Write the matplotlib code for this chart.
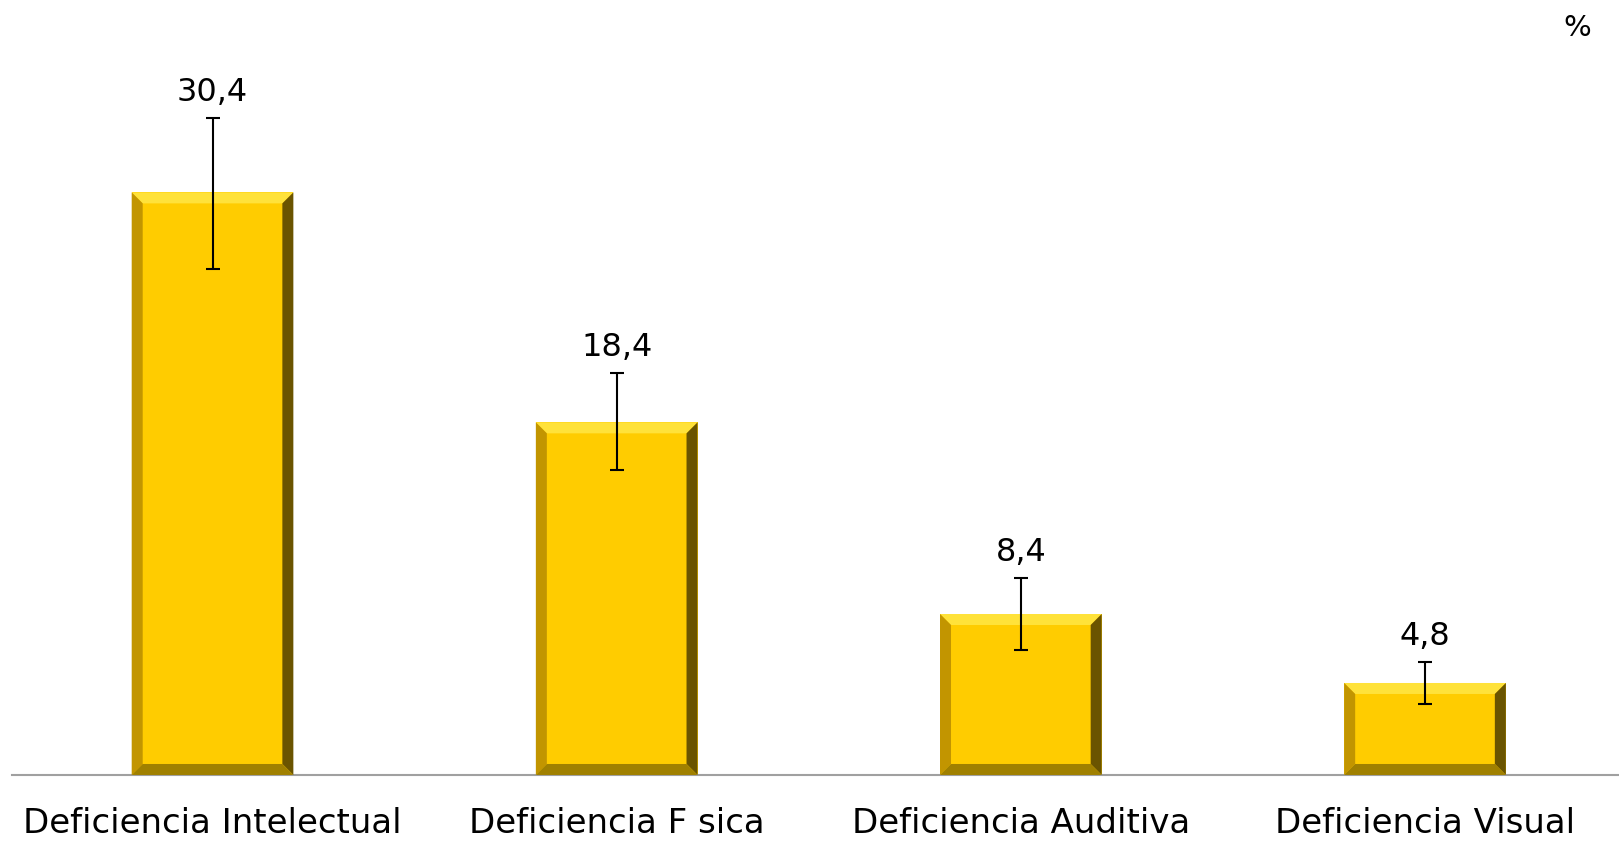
import matplotlib.pyplot as plt
from matplotlib.patches import Polygon
import numpy as np

categories = ["Deficiencia Intelectual", "Deficiencia F sica",
              "Deficiencia Auditiva", "Deficiencia Visual"]
values = [30.4, 18.4, 8.4, 4.8]
ci_low = [26.4, 15.9, 6.5, 3.7]
ci_high = [34.3, 21.0, 10.3, 5.9]
labels = ["30,4", "18,4", "8,4", "4,8"]

plt.rcParams['font.family'] = ['DejaVu Sans']

fig = plt.figure(figsize=(16.19, 8.41), dpi=100)
ax = fig.add_axes([0.0077, 0.0785, 0.9923, 0.9115])

x = np.arange(len(values))
width = 0.4
ax.bar(x, values, width=width, color="#FFCC00", edgecolor="none", zorder=2)

# bevel sizes (data units), ~11 px each way
ax.set_xlim(-0.495, 3.48)
ax.set_ylim(0, 40)
dx = 11 / (1607 / 3.975)
dy = 11 / (766.6 / 40)

for xi, v in zip(x, values):
    l, r = xi - width / 2, xi + width / 2
    t, b = v, 0
    faces = [
        ([(l, t), (r, t), (r - dx, t - dy), (l + dx, t - dy)], "#FFE23A"),
        ([(l, b), (l, t), (l + dx, t - dy), (l + dx, b + dy)], "#C29500"),
        ([(r, b), (r, t), (r - dx, t - dy), (r - dx, b + dy)], "#6A5400"),
        ([(l, b), (r, b), (r - dx, b + dy), (l + dx, b + dy)], "#A08000"),
    ]
    for pts, c in faces:
        ax.add_patch(Polygon(pts, closed=True, facecolor=c, edgecolor="none", zorder=3))

err = [np.array(values) - np.array(ci_low), np.array(ci_high) - np.array(values)]
ax.errorbar(x, values, yerr=err, fmt="none", ecolor="black", elinewidth=1.5,
            capsize=5, capthick=1.5, zorder=4)

for xi, hi, lab in zip(x, ci_high, labels):
    ax.annotate(lab, (xi, hi), xytext=(0, 7), textcoords="offset points",
                ha="center", va="bottom", fontsize=23)

ax.set_xticks(x)
ax.set_xticklabels(categories, fontsize=24.5)
ax.tick_params(axis="x", length=0, pad=23)
ax.set_yticks([])
for s in ["top", "right", "left"]:
    ax.spines[s].set_visible(False)
ax.spines["bottom"].set_color("#A0A0A0")
ax.spines["bottom"].set_linewidth(1.5)

fig.text(0.974, 0.967, "%", fontsize=21, ha="center", va="center")

fig.savefig("out.png", dpi=100)
